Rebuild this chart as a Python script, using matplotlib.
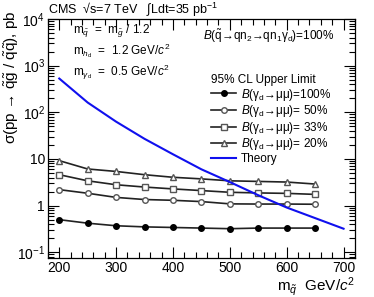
import numpy as np
import matplotlib
matplotlib.use('Agg')
import matplotlib.pyplot as plt
from matplotlib.ticker import FixedLocator, MultipleLocator, LogLocator, NullFormatter

plt.rcParams['font.family'] = ['Liberation Sans', 'DejaVu Sans']
plt.rcParams['mathtext.fontset'] = 'custom'
plt.rcParams['mathtext.rm'] = 'Liberation Sans'
plt.rcParams['mathtext.it'] = 'Liberation Sans:italic'
plt.rcParams['mathtext.bf'] = 'Liberation Sans:bold'
plt.rcParams['mathtext.sf'] = 'Liberation Sans'
plt.rcParams['mathtext.fallback'] = 'stixsans'

# Data
mass = [200, 250, 300, 350, 400, 450, 500, 550, 600, 650]
limit_100 = [0.50, 0.42, 0.37, 0.35, 0.34, 0.33, 0.32, 0.33, 0.33, 0.33]
limit_50 = [2.2, 1.84, 1.5, 1.35, 1.3, 1.22, 1.09, 1.08, 1.08, 1.07]
limit_33 = [4.6, 3.4, 2.8, 2.5, 2.28, 2.1, 1.93, 1.87, 1.83, 1.74]
limit_20 = [9.2, 6.1, 5.4, 4.6, 4.05, 3.74, 3.4, 3.3, 3.2, 2.9]

theory_mass = [200, 250, 300, 350, 400, 450, 500, 550, 600, 650, 700]
theory_xsec = [530, 162, 63, 27, 12.6, 6.0, 3.2, 1.67, 0.91, 0.54, 0.32]

xticks = [200, 300, 400, 500, 600, 700]
yticks = [0.1, 1, 10, 100, 1000, 10000]
ytick_labels = ['$10^{-1}$', '1', '10', '$10^{2}$', '$10^{3}$', '$10^{4}$']

fig = plt.figure(figsize=(3.74, 2.97), dpi=100)
ax = fig.add_axes([0.128, 0.131, 0.821, 0.805])

lc = '#222222'
br = r'$B$(γ$_{\rm d}$→μμ)'
ax.plot(mass, limit_100, color=lc, lw=1.2, marker='o', ms=4, mfc='black', mec='black',
        label=br + '=100%')
ax.plot(mass, limit_50, color=lc, lw=1.2, marker='o', ms=4, mfc='white', mec='#555555',
        label=br + '= 50%')
ax.plot(mass, limit_33, color=lc, lw=1.2, marker='s', ms=4, mfc='white', mec='#555555',
        label=br + '= 33%')
ax.plot(mass, limit_20, color=lc, lw=1.2, marker='^', ms=4.5, mfc='white', mec='#555555',
        label=br + '= 20%')
ax.plot(theory_mass, theory_xsec, color='#1010ee', lw=1.5, label='Theory')

ax.set_yscale('log')
ax.set_xlim(180, 720)
ax.set_ylim(0.075, 1e4)

ax.xaxis.set_major_locator(FixedLocator(xticks))
ax.xaxis.set_minor_locator(MultipleLocator(20))
ax.set_yticks(yticks)
ax.set_yticklabels(ytick_labels)
ax.yaxis.set_minor_locator(LogLocator(base=10, subs=np.arange(2, 10)))
ax.yaxis.set_minor_formatter(NullFormatter())
ax.tick_params(which='both', direction='in', top=True, right=True, labelsize=10, width=0.8)
ax.tick_params(which='major', length=8)
ax.tick_params(which='minor', length=4)
ax.tick_params(axis='x', pad=2)
ax.tick_params(axis='y', pad=2)
for s in ax.spines.values():
    s.set_linewidth(0.9)

ax.set_ylabel(r'σ(pp → $\mathrm{\tilde{q}\tilde{g}}$ / $\mathrm{\tilde{q}\bar{\tilde{q}}}$), pb',
              fontsize=11, loc='top')
ax.yaxis.set_label_coords(-0.088, 1.035)
fig.text(0.949, 0.036, r'm$_{\tilde{q}}$  GeV/$c^2$', ha='right', va='center', fontsize=11)

fig.text(0.128, 0.965, 'CMS  \u221as=7 TeV   \u222bLdt=35 pb$^{-1}$', ha='left', va='center',
         fontsize=9)

fs = 8.5
fig.text(0.195, 0.893, r'm$_{\tilde{q}}$  =  m$_{\tilde{g}}$ / 1.2', fontsize=fs, va='center')
fig.text(0.195, 0.830, r'm$_{h_{\rm d}}$  =  1.2 GeV/$c^2$', fontsize=fs, va='center')
fig.text(0.195, 0.757, r'm$_{γ_{\rm d}}$  =  0.5 GeV/$c^2$', fontsize=fs, va='center')
fig.text(0.543, 0.876,
         r'$B$($\tilde{\rm q}$→qn$_2$→qn$_1$γ$_{\rm d}$)=100%',
         fontsize=fs, va='center')

leg = ax.legend(loc='upper left', bbox_to_anchor=(0.525, 0.78), frameon=False,
                fontsize=fs, title='95% CL Upper Limit', title_fontsize=fs,
                handlelength=2.1, handletextpad=0.4, labelspacing=0.05,
                borderpad=0.2, borderaxespad=0)
leg._legend_box.align = 'left'

fig.savefig('out.png', dpi=100)
